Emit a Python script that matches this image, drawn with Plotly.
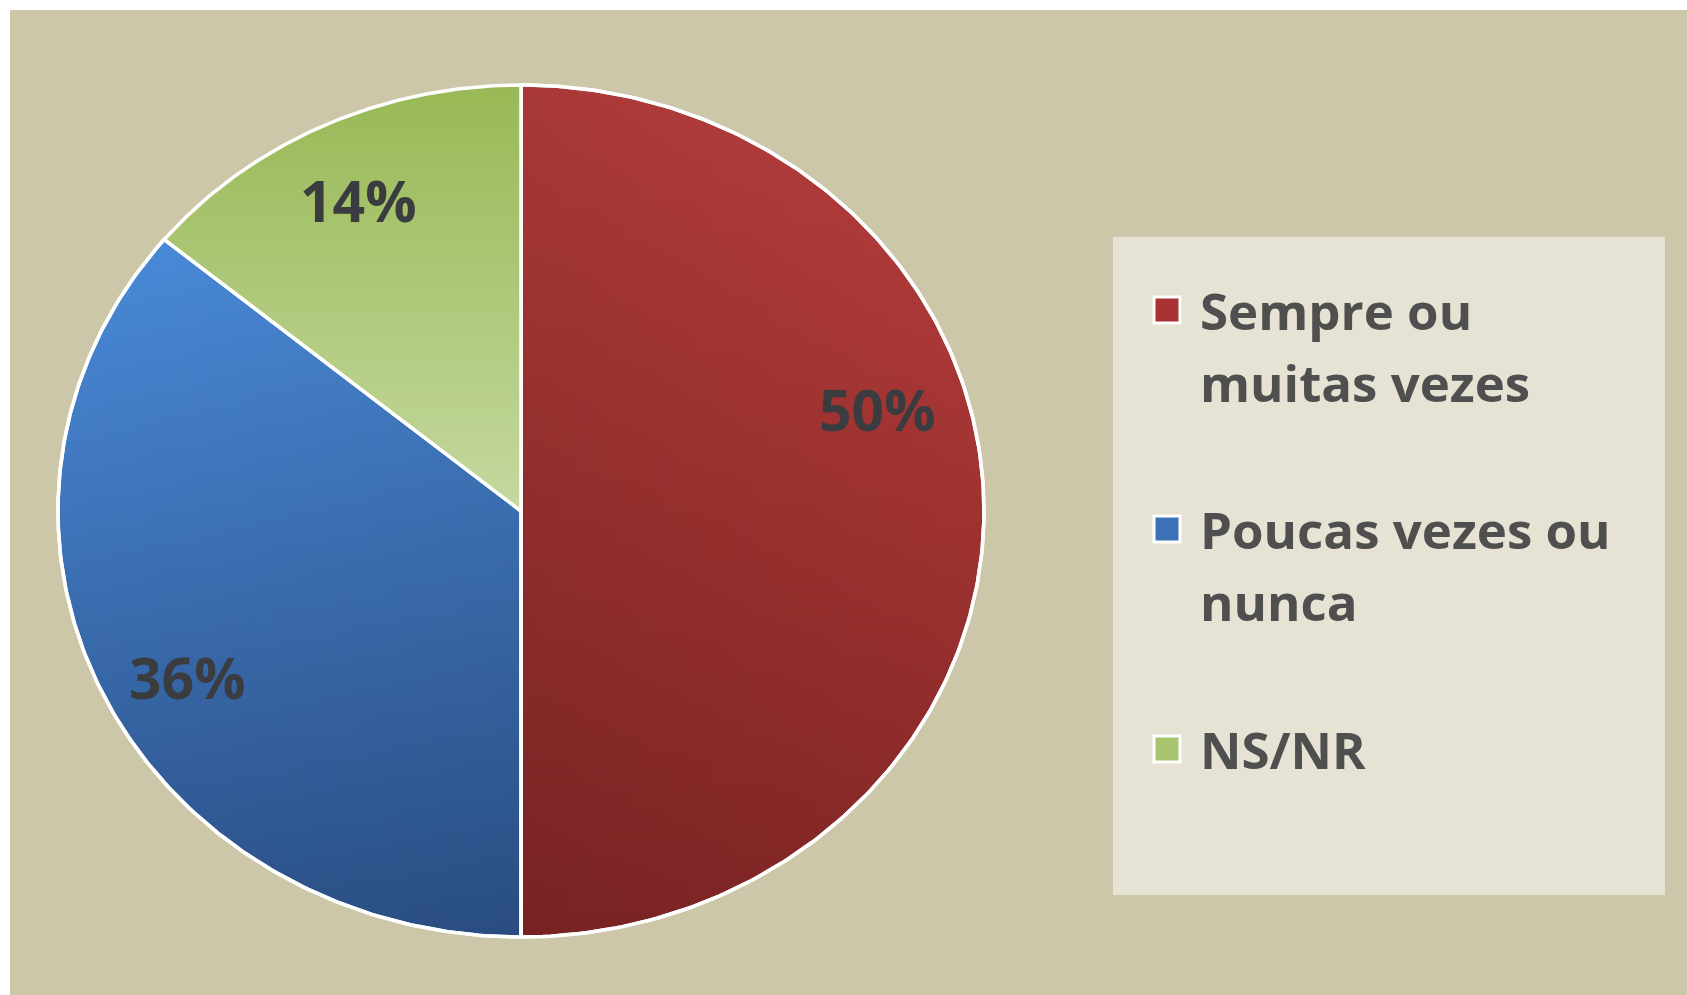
import textwrap
import numpy as np
import plotly.graph_objects as go

# ---------------- data ----------------
categories = ["Sempre ou muitas vezes", "Poucas vezes ou nunca", "NS/NR"]
values = [50, 36, 14]

# ---------------- styles ----------------
grad_v = [  # vertical gradient (bottom -> top)
    [[0, "#842626"], [1, "#BA3F3D"]],
    [[0, "#2C528A"], [1, "#4A8BDA"]],
    [[0, "#C5D89F"], [1, "#98B955"]],
]
grad_h = [  # horizontal shading overlay (left -> right)
    [[0, "rgba(0,0,0,0.10)"], [1, "rgba(0,0,0,0)"]],
    [[0, "rgba(0,0,0,0)"], [1, "rgba(0,0,0,0.07)"]],
    None,
]
legend_colors = ["#A93333", "#3C72B8", "#A9C46F"]
label_xy = [(0.77, 0.24), (-0.72, -0.39), (-0.35, 0.73)]  # label anchors (unit pie coords)

W, H = 1687, 995
ML, MT = 10, 10
CX, CY, RX, RY = 521, 511, 463, 426  # pie centre / radii in pixels

xr = [(ML - CX) / RX, (W - CX) / RX]
yr = [-(H - CY) / RY, (CY - MT) / RY]


def px2paper(x, y):
    return (x - ML) / (W - ML), (H - y) / (H - MT)


fig = go.Figure()

total = float(sum(values))
start = 0.0
for i, (cat, v) in enumerate(zip(categories, values)):
    a0 = start / total * 2 * np.pi
    a1 = (start + v) / total * 2 * np.pi
    start += v
    t = np.linspace(a0, a1, 200)
    xs = np.concatenate([[0], np.sin(t), [0]])
    ys = np.concatenate([[0], np.cos(t), [0]])
    fig.add_trace(go.Scatter(
        x=xs, y=ys, mode="lines", fill="toself",
        fillgradient=dict(type="vertical", colorscale=grad_v[i]),
        line=dict(color="white", width=3.5),
        name=cat, showlegend=False, hoverinfo="skip"))
    if grad_h[i] is not None:
        fig.add_trace(go.Scatter(
            x=xs, y=ys, mode="lines", fill="toself",
            fillgradient=dict(type="horizontal", colorscale=grad_h[i]),
            line=dict(color="white", width=3.5),
            showlegend=False, hoverinfo="skip"))

annotations = []
for i, v in enumerate(values):
    lx, ly = label_xy[i]
    annotations.append(dict(
        x=lx, y=ly, xref="x", yref="y", text=f"{v}%", showarrow=False,
        font=dict(family="Open Sans", size=57, color="#3A3C3F", weight="bold"),
        xanchor="center", yanchor="middle"))

# legend (drawn manually)
shapes = []
bx0, by0 = px2paper(1113, 895)
bx1, by1 = px2paper(1665, 237)
shapes.append(dict(type="rect", xref="paper", yref="paper", x0=bx0, y0=by0, x1=bx1, y1=by1,
                   fillcolor="#E6E3D4", line=dict(width=0), layer="below"))

item_y = [310, 529, 749]
line_h = 72
for i, cat in enumerate(categories):
    y0 = item_y[i]
    sx0, sy0 = px2paper(1167 - 13, y0 + 13)
    sx1, sy1 = px2paper(1167 + 13, y0 - 13)
    shapes.append(dict(type="rect", xref="paper", yref="paper", x0=sx0, y0=sy0, x1=sx1, y1=sy1,
                       fillcolor=legend_colors[i], line=dict(color="white", width=3)))
    for k, ln in enumerate(textwrap.wrap(cat, 15)):
        ax, ay = px2paper(1198, y0 + k * line_h)
        annotations.append(dict(
            x=ax, y=ay, xref="paper", yref="paper", text=ln, showarrow=False,
            font=dict(family="Open Sans", size=51, color="#4F4F4F", weight="bold"),
            xanchor="left", yanchor="middle"))

fig.update_layout(
    width=W, height=H,
    margin=dict(l=ML, t=MT, r=0, b=0),
    paper_bgcolor="white", plot_bgcolor="#CDC7A9",
    xaxis=dict(range=xr, visible=False, showgrid=False, zeroline=False, fixedrange=True),
    yaxis=dict(range=yr, visible=False, showgrid=False, zeroline=False, fixedrange=True),
    shapes=shapes, annotations=annotations, showlegend=False,
)

fig.write_html("out.html", config={"displayModeBar": False},
               post_script="document.body.style.margin='0';document.body.style.overflow='hidden';")
